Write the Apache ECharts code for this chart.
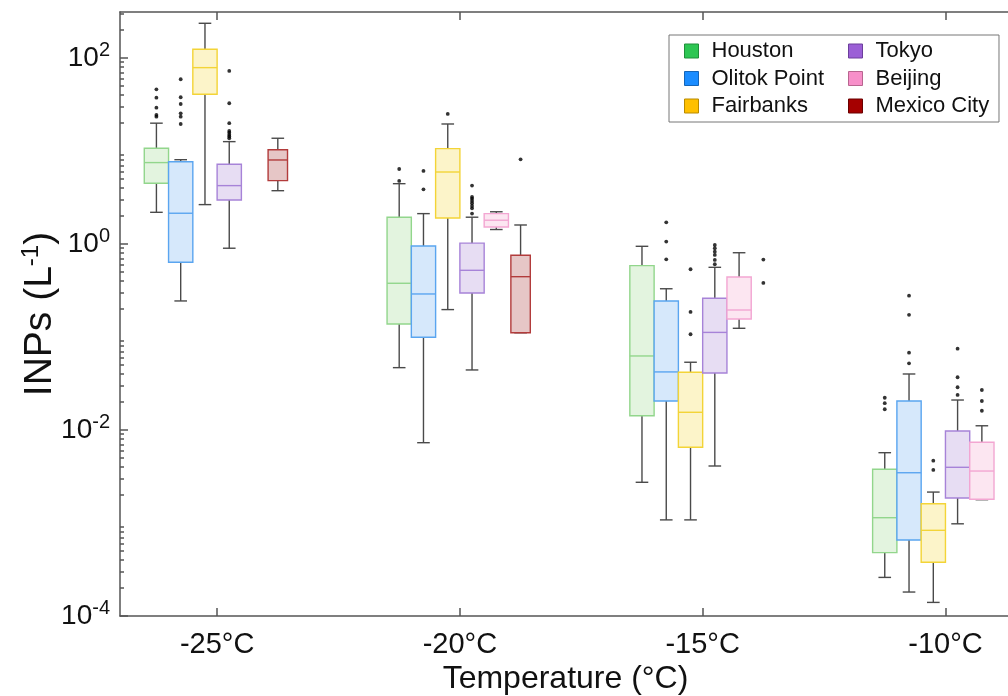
<!DOCTYPE html>
<html>
<head>
<meta charset="utf-8">
<title>INPs by temperature</title>
<script src="https://cdn.jsdelivr.net/npm/echarts@6/dist/echarts.min.js"></script>
<style>
html, body { margin: 0; padding: 0; background: #fff; }
#chart { width: 1008px; height: 696px; }
</style>
</head>
<body>
<div id="chart"></div>
<script>
// x categories (temperature, degC) and groups
var temps = [-25, -20, -15, -10];
var cities = ['Houston', 'Olitok Point', 'Fairbanks', 'Tokyo', 'Beijing', 'Mexico City'];
var yTickValues = [1e-4, 1e-2, 1, 1e2];
var yMinorValues = [];
for (var e = -4; e <= 2; e++) {
  for (var m = 2; m <= 9; m++) { if (m * Math.pow(10, e) < 312) yMinorValues.push(m * Math.pow(10, e)); }
}

// box stats per temperature: [lower whisker, q1, median, q3, upper whisker] in L^-1, null = no box
var houstonBox   = [[2.19, 4.5, 7.5, 10.7, 19.9], [0.0468, 0.138, 0.378, 1.94, 4.45], [0.00274, 0.0142, 0.0625, 0.585, 0.944], [0.00026, 0.00048, 0.00114, 0.00378, 0.0057]];
var olitokBox    = [[0.244, 0.635, 2.14, 7.67, 8.06], [0.0073, 0.0993, 0.29, 0.95, 2.12], [0.00108, 0.0205, 0.0421, 0.244, 0.33], [0.000181, 0.000656, 0.00347, 0.0205, 0.04]];
var fairbanksBox = [[2.65, 40.7, 78.7, 124, 236], [0.197, 1.9, 5.94, 10.6, 19.5], [0.00108, 0.00652, 0.0155, 0.0417, 0.0535], [0.00014, 0.000378, 0.000834, 0.00161, 0.00215]];
var tokyoBox     = [[0.9, 2.97, 4.24, 7.19, 12.6], [0.0442, 0.297, 0.521, 1.02, 1.94], [0.0041, 0.041, 0.112, 0.261, 0.561], [0.00098, 0.00186, 0.00397, 0.00975, 0.021]];
var beijingBox   = [null, [1.43, 1.52, 1.8, 2.12, 2.22], [0.124, 0.156, 0.195, 0.442, 0.805], [0.00178, 0.0018, 0.00362, 0.00738, 0.0111]];
var mexicoBox    = [[3.74, 4.8, 8.0, 10.3, 13.7], [0.111, 0.111, 0.445, 0.755, 1.6], null, null];

// outliers per temperature
var houstonOut   = [[46, 37.4, 29.2, 24.4, 23.4], [6.4, 4.76], [], [0.0222, 0.0194, 0.0167]];
var olitokOut    = [[59, 37.8, 32, 25.4, 23.4, 19.5], [6.1, 3.87], [1.71, 1.06, 0.684], [0.278, 0.173, 0.0678, 0.0521]];
var fairbanksOut = [[], [25], [0.535, 0.186, 0.107], [0.00468, 0.00372]];
var tokyoOut     = [[72.5, 32.6, 19.9, 16.4, 15.7, 14.9, 14.3, 13.7], [4.24, 3.2, 3.07, 2.9, 2.74, 2.56, 2.42, 2.12], [0.975, 0.9, 0.826, 0.762, 0.673, 0.605], [0.0748, 0.0369, 0.0288, 0.0238]];
var beijingOut   = [[], [], [], [0.0269, 0.0205, 0.0161]];
var mexicoOut    = [[], [8.14], [0.68, 0.381], []];

var boxData = [houstonBox, olitokBox, fairbanksBox, tokyoBox, beijingBox, mexicoBox];
var outData = [houstonOut, olitokOut, fairbanksOut, tokyoOut, beijingOut, mexicoOut];

// styles
var legendColors = ['#2dc653', '#1a8cff', '#ffc000', '#9b5fd6', '#f78fc9', '#a50000'];
var legendBorders = ['#1f8f3a', '#1465b8', '#b88a00', '#6c3f9c', '#b8658f', '#6a0000'];
var boxStyles = [
  { fill: '#e3f4df', stroke: '#92d68c', width: 1 },
  { fill: '#d6e8fb', stroke: '#5aa5f0', width: 1 },
  { fill: '#fcf4c9', stroke: '#f3d437', width: 1 },
  { fill: '#e7ddf3', stroke: '#a783d8', width: 1 },
  { fill: '#fce6f1', stroke: '#f3a6d2', width: 1 },
  { fill: '#e6c6c6', stroke: '#b23b3b', width: 0.8 }
];
var SLOT = 0.5; // degC between neighbouring boxes
var FONT = '"Liberation Sans", Arial, Helvetica, sans-serif';

function makeRender(i) {
  var st = boxStyles[i];
  return function (params, api) {
    var x = api.value(0);
    var p = [1, 2, 3, 4, 5].map(function (d) { return api.coord([x, api.value(d)]); });
    var slotPx = api.size([SLOT, 0])[0];
    var w = slotPx * st.width;
    var cap = slotPx * 0.26;
    var cx = p[0][0];
    var wl = { stroke: '#4a4a4a', lineWidth: 1.4 };
    return {
      type: 'group',
      children: [
        { type: 'line', shape: { x1: cx, y1: p[0][1], x2: cx, y2: p[1][1] }, style: wl },
        { type: 'line', shape: { x1: cx, y1: p[3][1], x2: cx, y2: p[4][1] }, style: wl },
        { type: 'line', shape: { x1: cx - cap, y1: p[0][1], x2: cx + cap, y2: p[0][1] }, style: wl },
        { type: 'line', shape: { x1: cx - cap, y1: p[4][1], x2: cx + cap, y2: p[4][1] }, style: wl },
        { type: 'rect', shape: { x: cx - w / 2, y: p[3][1], width: w, height: p[1][1] - p[3][1] },
          style: { fill: st.fill, stroke: st.stroke, lineWidth: 1.4 } },
        { type: 'line', shape: { x1: cx - w / 2, y1: p[2][1], x2: cx + w / 2, y2: p[2][1] },
          style: { stroke: st.stroke, lineWidth: 1.4 } }
      ]
    };
  };
}

var series = [];
cities.forEach(function (name, i) {
  var pts = [], dots = [];
  temps.forEach(function (t, k) {
    var x = t + (i - 2.5) * SLOT;
    if (boxData[i][k]) pts.push([x].concat(boxData[i][k]));
    outData[i][k].forEach(function (v) { dots.push([x, v]); });
  });
  series.push({
    type: 'custom', name: name, renderItem: makeRender(i),
    encode: { x: 0, y: [1, 2, 3, 4, 5] }, data: pts,
    itemStyle: { color: legendColors[i] }, z: 2, silent: true
  });
  series.push({
    type: 'scatter', name: name, data: dots, symbolSize: 3.8,
    itemStyle: { color: '#000' }, z: 3, silent: true
  });
});

// legend: two columns of three, one shared frame
function legendPart(from, to, left, framed) {
  return {
    data: cities.slice(from, to).map(function (c, j) {
      var i = from + j;
      return { name: c, itemStyle: { color: legendColors[i], borderColor: legendBorders[i], borderWidth: 1 } };
    }),
    orient: 'vertical', left: left, top: 35, z: framed ? 4 : 5,
    padding: framed ? [5, 175, 5, 15] : [5, 0, 5, 0],
    itemGap: 5.5, itemWidth: 14, itemHeight: 14, icon: 'rect',
    borderColor: framed ? '#777' : 'transparent', borderWidth: framed ? 1 : 0,
    backgroundColor: framed ? '#fff' : 'transparent', selectedMode: false,
    formatter: function (name) { return '{t|' + name + '}'; },
    textStyle: {
      fontFamily: FONT, fontSize: 22, color: '#111',
      rich: { t: { fontFamily: FONT, fontSize: 22, color: '#111', padding: [0, 0, 0, 8] } }
    }
  };
}

var axisLineStyle = { color: '#555', width: 1.5 };
var chart = echarts.init(document.getElementById('chart'));
chart.setOption({
  animation: false,
  grid: { left: 120, top: 12, right: -3, bottom: 80, outerBoundsMode: 'none', containLabel: false },
  legend: [legendPart(0, 3, 669, true), legendPart(3, 6, 848, false)],
  xAxis: [{
    type: 'value', min: -27, max: -8.65, position: 'bottom',
    name: 'Temperature (°C)', nameLocation: 'middle', nameGap: 47, nameMoveOverlap: false,
    nameTextStyle: { fontFamily: FONT, fontSize: 32, color: '#111' },
    axisLine: { show: true, lineStyle: axisLineStyle },
    axisTick: { show: true, inside: true, length: 8, customValues: temps, lineStyle: axisLineStyle },
    axisLabel: { customValues: temps, margin: 14, fontFamily: FONT, fontSize: 29, color: '#111',
      formatter: function (v) { return v + '°C'; } },
    splitLine: { show: false }
  }, {
    type: 'value', min: -27, max: -8.65, position: 'top',
    axisLine: { show: true, lineStyle: axisLineStyle },
    axisTick: { show: true, inside: true, length: 8, customValues: temps, lineStyle: axisLineStyle },
    axisLabel: { show: false },
    splitLine: { show: false }
  }],
  yAxis: [{
    type: 'log', min: 1e-4, max: 312, position: 'left',
    name: 'INPs (L{s|-1})', nameLocation: 'middle', nameGap: 58, nameRotate: 90, nameMoveOverlap: false,
    nameTextStyle: { fontFamily: FONT, fontSize: 39, color: '#111',
      rich: { s: { fontFamily: FONT, fontSize: 24, color: '#111', padding: [0, 0, 19, 0] } } },
    axisLine: { show: true, lineStyle: axisLineStyle },
    axisTick: { show: true, inside: true, length: 8, customValues: yTickValues, lineStyle: axisLineStyle },
    axisLabel: {
      customValues: yTickValues, margin: 10,
      formatter: function (v) { return '{b|10}{s|' + Math.round(Math.log10(v)) + '}'; },
      rich: {
        b: { fontFamily: FONT, fontSize: 28, color: '#111' },
        s: { fontFamily: FONT, fontSize: 20, color: '#111', padding: [0, 0, 15, 0] }
      }
    },
    splitLine: { show: false }
  }, {
    type: 'log', min: 1e-4, max: 312, position: 'left',
    axisLine: { show: false },
    axisTick: { show: true, inside: true, length: 4, customValues: yMinorValues, lineStyle: axisLineStyle },
    axisLabel: { show: false },
    splitLine: { show: false }
  }],
  series: series
});
</script>
</body>
</html>
